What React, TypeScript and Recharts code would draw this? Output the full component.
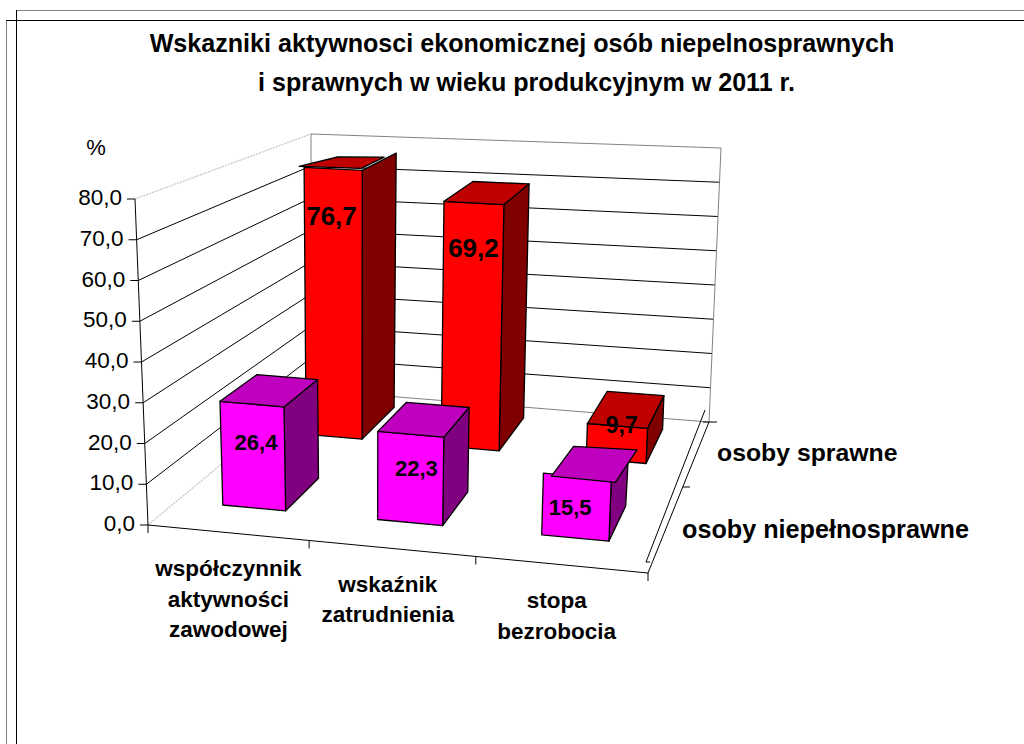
import { BarChart, Bar, XAxis, YAxis, CartesianGrid } from 'recharts'

const categories = ['współczynnik aktywności zawodowej', 'wskaźnik zatrudnienia', 'stopa bezrobocia']
const disabledValues = [26.4, 22.3, 15.5]
const ableValues = [76.7, 69.2, 9.7]
const yTicks = [0, 10, 20, 30, 40, 50, 60, 70, 80]
const titleLines = [
  'Wskazniki aktywnosci ekonomicznej osób niepelnosprawnych',
  'i sprawnych w wieku produkcyjnym w 2011 r.',
]
const seriesNames = ['osoby sprawne', 'osoby niepełnosprawne']

const rows = categories.map((name, i) => ({ name, able: ableValues[i], disabled: disabledValues[i] }))

const FONT = '"Liberation Sans", Arial, sans-serif'
const PLOT = { left: 100, top: 100, width: 800, height: 400 }

// corners of the 3D box as drawn on screen: [u, height, depth]
const C000 = [148, 525]
const C100 = [648, 573]
const C101 = [709, 422]
const C001 = [311, 390]
const C010 = [135, 199]
const C110 = [664, 243]
const C111 = [721, 148]
const C011 = [311, 134]

const lerp = (a: number, b: number, t: number) => a + (b - a) * t

function project(uRaw: number, h: number, d: number): [number, number] {
  // slight perspective warp along the category axis
  const u = uRaw - 0.05 * uRaw * (1 - uRaw)
  const out = [0, 1].map((k) => {
    const bottom = lerp(lerp(C000[k], C100[k], u), lerp(C001[k], C101[k], u), d)
    const top = lerp(lerp(C010[k], C110[k], u), lerp(C011[k], C111[k], u), d)
    return lerp(bottom, top, h)
  })
  return [out[0], out[1]]
}

const pts = (list: [number, number][]) => list.map((p) => p.map((n) => n.toFixed(1)).join(',')).join(' ')
const toU = (x: number) => (x - PLOT.left) / PLOT.width
const toH = (y: number) => (PLOT.top + PLOT.height - y) / PLOT.height

const FRONT_ROW = { depth: [0.18, 0.415], colors: ['#FF00FF', '#800080', '#BF00BF'], fontSize: 22 }
const BACK_ROW = { depth: [0.7, 0.93], colors: ['#FF0000', '#800000', '#BF0000'], fontSize: 26 }

// small per-bar corrections, the original perspective is not quite regular
const barNudge: Record<string, number> = { '76.7': 7, '69.2': -1.5, '22.3': -3 }
const labelShift: Record<string, [number, number]> = {
  '76.7': [-2, -87],
  '69.2': [1.5, -78],
  '9.7': [5, -18],
  '26.4': [3, -14],
  '22.3': [6, -10],
  '15.5': [-6, 0],
}
const categoryShift = [0.5, -4, -4.5]
const titleX = [522, 526.5]

// two top faces sit crooked in the original
const crookedTops: Record<string, [number, number][]> = {
  '76.7': [[-5, -1], [-1, -2], [-12, 4], [-4, 6]],
  '15.5': [[8, 3], [4, 3], [9, 3], [10, 5]],
}

function Bar3D(props: any) {
  const { x, y, width, value, row } = props
  const nudge = barNudge[String(value)] ?? 0
  const u0 = toU(x + nudge)
  const u1 = toU(x + nudge + width)
  const h = toH(y)
  const [d0, d1] = row.depth
  const [front, side, top] = row.colors

  const fl = project(u0, h, d0)
  const fr = project(u1, h, d0)
  const br = project(u1, h, d1)
  const bl = project(u0, h, d1)
  const crook = crookedTops[String(value)] ?? [[0, 0], [0, 0], [0, 0], [0, 0]]
  const topFace = [fl, fr, br, bl].map((p, i) => [p[0] + crook[i][0], p[1] + crook[i][1]] as [number, number])

  // the 15,5 side face stops at the crooked top instead of poking out behind it
  let sideTop = br
  if (value === 15.5) {
    const [a, b] = [topFace[1], topFace[2]]
    sideTop = [br[0], lerp(a[1], b[1], (br[0] - a[0]) / (b[0] - a[0]))]
  }

  const mid = project((u0 + u1) / 2, h / 2, d0)
  const shift = labelShift[String(value)] ?? [0, 0]
  return (
    <g stroke="#000" strokeWidth={1.3} strokeLinejoin="round">
      <polygon points={pts([project(u1, 0, d0), project(u1, 0, d1), sideTop, fr])} fill={side} />
      <polygon points={pts([project(u0, 0, d0), project(u1, 0, d0), fr, fl])} fill={front} />
      <polygon points={pts(topFace)} fill={top} />
      <text
        x={mid[0] + shift[0]}
        y={mid[1] + shift[1]}
        textAnchor="middle"
        dominantBaseline="central"
        fontFamily={FONT}
        fontWeight="bold"
        fontSize={value === 9.7 ? 23 : row.fontSize}
        fill="#000"
        stroke="none"
      >
        {String(value).replace('.', ',')}
      </text>
    </g>
  )
}

function WallLine(props: any) {
  const h = toH(props.y1)
  const a = project(0, h, 0)
  const b = project(0, h, 1)
  const c = project(1, h, 1)
  const edge = h < 0.001 || h > 0.999
  return (
    <g key={props.key} fill="none">
      <line
        x1={a[0]} y1={a[1]} x2={b[0]} y2={b[1]}
        stroke={edge ? '#C8C8C8' : '#000'}
        strokeWidth={edge ? 1.3 : 1}
        strokeDasharray={edge ? '2 1' : undefined}
      />
      <line x1={b[0]} y1={b[1]} x2={c[0]} y2={c[1]} stroke={edge ? '#808080' : '#000'} strokeWidth={1} />
    </g>
  )
}

function ValueTick(props: any) {
  const { y, payload } = props
  const p = project(0, toH(y), 0)
  return (
    <g>
      <line x1={p[0] - 8} y1={p[1]} x2={p[0]} y2={p[1]} stroke="#000" />
      <text
        x={p[0] - 13}
        y={p[1] - 1.5}
        textAnchor="end"
        dominantBaseline="central"
        fontFamily={FONT}
        fontSize={22.5}
        fill="#000"
      >
        {payload.value.toFixed(1).replace('.', ',')}
      </text>
    </g>
  )
}

function CategoryTick(props: any) {
  const { x, payload, index } = props
  const half = PLOT.width / categories.length / 2
  const p = project(toU(x), 0, 0)
  const edges = [x - half]
  if (index === categories.length - 1) edges.push(x + half)
  return (
    <g>
      {edges.map((ex) => {
        const e = project(toU(ex), 0, 0)
        return <line key={ex} x1={e[0]} y1={e[1]} x2={e[0]} y2={e[1] + 8} stroke="#000" />
      })}
      {payload.value.split(' ').map((word: string, i: number) => (
        <text
          key={word}
          x={p[0] + categoryShift[index]}
          y={p[1] + 36 + i * 30.5}
          textAnchor="middle"
          dominantBaseline="central"
          fontFamily={FONT}
          fontWeight="bold"
          fontSize={22.5}
          fill="#000"
        >
          {word}
        </text>
      ))}
    </g>
  )
}

function BoxFrame() {
  const line = (a: number[], b: number[], stroke: string, dash?: string) => (
    <line x1={a[0]} y1={a[1]} x2={b[0]} y2={b[1]} stroke={stroke} strokeDasharray={dash} />
  )
  return (
    <g fill="none">
      {/* page frame */}
      {line([16.5, 10.5], [1024, 10.5], '#808080')}
      {line([6.5, 20.5], [6.5, 744], '#808080')}
      {line([6, 20.5], [1024, 20.5], '#000')}
      {line([16.5, 10], [16.5, 744], '#000')}
      {/* walls and floor edges */}
      {line(C011, C001, '#808080')}
      {line(C111, C101, '#808080')}
      {line(C010, C000, '#000')}
      {line(C000, C100, '#000')}
      {line(C100, C101, '#000')}
      {line([646, 562], [705, 410], '#000')}
      {line([646, 562], [650, 562], '#000')}
      {line([703, 422], [717, 422], '#000')}
      {line([683, 487], [690, 487], '#000')}
    </g>
  )
}

export default function App() {
  return (
    <div style={{ position: 'absolute', left: 0, top: 0, width: 1024, height: 744, background: '#fff' }}>
      <BarChart
        width={1024}
        height={744}
        data={rows}
        margin={{ left: PLOT.left - 1, top: PLOT.top, right: 1024 - PLOT.left - PLOT.width, bottom: 744 - PLOT.top - PLOT.height - 1 }}
        barSize={108}
        barGap={-108}
        barCategoryGap={0}
      >
        <BoxFrame />
        <CartesianGrid vertical={false} horizontal={WallLine} stroke="none" />
        <XAxis dataKey="name" height={1} axisLine={false} tickLine={false} interval={0} tick={CategoryTick} />
        <YAxis width={1} domain={[0, 80]} ticks={yTicks} axisLine={false} tickLine={false} interval={0} tick={ValueTick} />
        <Bar dataKey="able" name={seriesNames[0]} isAnimationActive={false} shape={(p: any) => <Bar3D {...p} row={BACK_ROW} />} />
        <Bar dataKey="disabled" name={seriesNames[1]} isAnimationActive={false} shape={(p: any) => <Bar3D {...p} row={FRONT_ROW} />} />
        {titleLines.map((t, i) => (
          <text key={t} x={titleX[i]} y={43 + i * 39} textAnchor="middle" dominantBaseline="central" fontFamily={FONT} fontWeight="bold" fontSize={25.1} fill="#000">
            {t}
          </text>
        ))}
        <text x={96} y={147} textAnchor="middle" dominantBaseline="central" fontFamily={FONT} fontSize={22} fill="#000">%</text>
        <text x={717} y={452} dominantBaseline="central" fontFamily={FONT} fontWeight="bold" fontSize={24.8} fill="#000">{seriesNames[0]}</text>
        <text x={682} y={529} dominantBaseline="central" fontFamily={FONT} fontWeight="bold" fontSize={25.2} fill="#000">{seriesNames[1]}</text>
      </BarChart>
    </div>
  )
}
